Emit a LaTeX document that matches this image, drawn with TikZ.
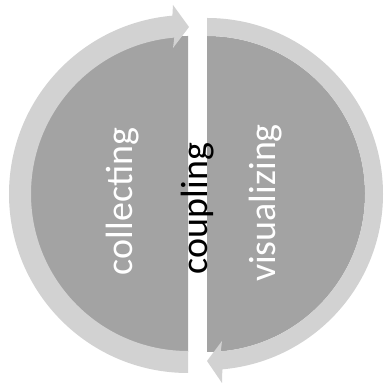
\documentclass[tikz,border=0pt]{standalone}
\usepackage{fontspec}
\setmainfont{Carlito}
\definecolor{darkfill}{RGB}{163,163,163}
\definecolor{lightband}{RGB}{210,210,210}
\begin{document}
\begin{tikzpicture}[x=1pt,y=1pt,
  lbl/.style={rotate=90, anchor=base, inner sep=0pt, font=\fontsize{38}{40}\selectfont}]
\useasboundingbox[fill=white] (0,0) rectangle (388,387);
% dark half discs
\fill[darkfill] (188,351) arc[start angle=90,end angle=270,radius=158] -- cycle;
\fill[darkfill] (207,351) arc[start angle=90,end angle=-90,radius=158] -- cycle;
% left band with arrow at top
\fill[lightband] (188,14) arc[start angle=270,end angle=95,radius=179]
  -- (173,382) -- (189,360) -- (173,339)
  -- ([shift={(188,193)}]95:157) arc[start angle=95,end angle=270,radius=157] -- cycle;
% right band with arrow at bottom
\fill[lightband] (207,369) arc[start angle=90,end angle=-85,radius=176]
  -- (222,4) -- (207,26) -- (222,46)
  -- ([shift={(207,193)}]-85:158) arc[start angle=-85,end angle=90,radius=158] -- cycle;
% labels
\node[lbl, text=white] (collect) at (132,185.5) {collecting};
\node[lbl, text=black] (coup) at (207,178.5) {coupling};
\node[lbl, text=white] (vis) at (275,184) {visualizing};
\end{tikzpicture}
\end{document}
